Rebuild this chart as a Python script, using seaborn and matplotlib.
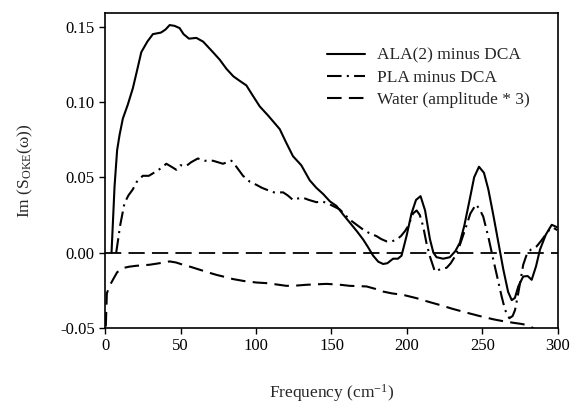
import matplotlib
matplotlib.use("Agg")
import matplotlib.pyplot as plt
import seaborn as sns
import pandas as pd

# frequency (cm-1) / Im(S_OKE) values
ala_freq = [4.3, 6.3, 8, 9.6, 11.8, 15, 18.4, 21, 24, 28, 31.7, 37, 40, 42.8, 46, 49.4,
            52, 55.6, 60.5, 65, 71.5, 76, 80.4, 85, 89.2, 93.6, 98, 102.5, 108, 115.7,
            120, 124.5, 130, 135.6, 140, 144.4, 149, 153.3, 158, 162.1, 167, 171, 174,
            177.6, 181, 184.2, 187, 190.8, 194, 196.4, 199.7, 203, 206, 209, 212, 215.2,
            217.5, 219.6, 224, 228.4, 232, 235, 238, 241.7, 244.5, 247.7, 251, 253.9, 257,
            259.4, 263.8, 267, 269.4, 271.5, 273.7, 277, 280, 282.6, 285.5, 288.1, 292,
            295.9, 299.2]
ala_val = [0.0, 0.044, 0.068, 0.078, 0.089, 0.098, 0.109, 0.120, 0.133, 0.140, 0.145,
           0.146, 0.148, 0.151, 0.1505, 0.149, 0.145, 0.142, 0.1425, 0.140, 0.133, 0.128,
           0.122, 0.117, 0.114, 0.111, 0.104, 0.097, 0.091, 0.082, 0.073, 0.064, 0.058,
           0.048, 0.043, 0.039, 0.034, 0.031, 0.025, 0.020, 0.014, 0.0087, 0.004, -0.002,
           -0.006, -0.0075, -0.007, -0.004, -0.004, -0.002, 0.011, 0.026, 0.035, 0.0375,
           0.028, 0.009, 0.0, -0.003, -0.004, -0.003, 0.001, 0.0065, 0.018, 0.036, 0.050,
           0.057, 0.053, 0.042, 0.026, 0.013, -0.011, -0.026, -0.0315, -0.030, -0.0225,
           -0.0158, -0.0155, -0.018, -0.009, 0.002, 0.012, 0.0185, 0.017]

pla_freq = [7.4, 10, 12.9, 15.5, 18.4, 21, 25, 29, 34, 37, 40.6, 44, 47.2, 50, 53.8, 57,
            61.5, 66, 71.5, 78.1, 83.7, 87, 91.4, 96, 100.3, 104, 109, 112, 118, 121,
            124.5, 128, 131, 135, 140, 144, 149, 155.5, 162, 166, 171, 175, 179.8, 183,
            186.5, 190, 193.1, 196, 198.6, 201, 204, 206.4, 208.5, 210.7, 213, 215.2,
            218.5, 222, 226.3, 229, 231.8, 235, 238.4, 242, 245.7, 248, 250.5, 254, 257.2,
            260, 262.7, 265, 267.8, 270, 271.6, 273.5, 275.3, 277, 279.3, 282, 285.9, 289,
            292.6, 295, 297, 299.5]
pla_val = [0.0, 0.018, 0.033, 0.038, 0.042, 0.047, 0.051, 0.051, 0.054, 0.056, 0.059,
           0.057, 0.055, 0.058, 0.0575, 0.060, 0.0625, 0.061, 0.061, 0.059, 0.061, 0.057,
           0.051, 0.047, 0.045, 0.043, 0.041, 0.040, 0.040, 0.038, 0.035, 0.036, 0.0365,
           0.035, 0.0335, 0.034, 0.032, 0.0287, 0.022, 0.019, 0.0153, 0.013, 0.011, 0.009,
           0.0075, 0.0075, 0.0087, 0.011, 0.0142, 0.018, 0.026, 0.028, 0.025, 0.0175,
           0.006, -0.0025, -0.0125, -0.011, -0.010, -0.007, -0.0025, 0.005, 0.015, 0.026,
           0.032, 0.029, 0.024, 0.010, -0.0047, -0.017, -0.029, -0.038, -0.0435, -0.042,
           -0.038, -0.028, -0.018, -0.008, -0.0013, 0.002, 0.0042, 0.008, 0.013, 0.016,
           0.0165, 0.015]

water_freq = [0.5, 1.2, 3, 5.2, 8, 11.8, 16, 20.7, 29.5, 36, 42.8, 47, 51.6, 57, 62.7,
              68, 73.7, 79, 84.7, 92, 100.3, 106.9, 113, 120.2, 127, 133.4, 140, 146.7,
              155, 162.1, 168, 173.2, 179, 184.2, 190, 197.5, 206.4, 214, 221.8, 230,
              239.5, 248, 257.2, 264, 270.4, 276, 279.3, 282, 284]
water_val = [-0.049, -0.027, -0.022, -0.018, -0.013, -0.0102, -0.0093, -0.0087, -0.008,
             -0.007, -0.0058, -0.0065, -0.008, -0.0095, -0.0113, -0.013, -0.0147, -0.016,
             -0.0175, -0.0188, -0.0198, -0.0202, -0.021, -0.022, -0.0218, -0.0213, -0.021,
             -0.0207, -0.0212, -0.022, -0.0222, -0.0224, -0.024, -0.0258, -0.027, -0.028,
             -0.0302, -0.0325, -0.0347, -0.0372, -0.0398, -0.042, -0.0442, -0.0455,
             -0.0465, -0.0473, -0.048, -0.049, -0.0505]

names = ["ALA(2) minus DCA", "PLA minus DCA", "Water (amplitude * 3)"]

df = pd.concat([
    pd.DataFrame({"freq": ala_freq, "val": ala_val, "series": names[0]}),
    pd.DataFrame({"freq": pla_freq, "val": pla_val, "series": names[1]}),
    pd.DataFrame({"freq": water_freq, "val": water_val, "series": names[2]}),
])

sns.set_style("ticks")
plt.rcParams["font.family"] = ["Liberation Serif", "DejaVu Serif"]
plt.rcParams["mathtext.fontset"] = "custom"
plt.rcParams["mathtext.rm"] = "Liberation Serif"
plt.rcParams["mathtext.it"] = "Liberation Serif:italic"

fig = plt.figure(figsize=(5.74, 4.07), dpi=100)
ax = fig.add_axes([0.183, 0.194, 0.789, 0.774])

ax.axhline(0, color="black", lw=1.3, ls=(0, (9, 4)), zorder=1)
sns.lineplot(data=df, x="freq", y="val", style="series", color="black", lw=1.5,
             dashes={names[0]: "", names[1]: (7, 2.5, 1, 2.5), names[2]: (7, 3.5)},
             ax=ax)

ax.set_xlim(0, 300)
ax.set_ylim(-0.05, 0.159)
ax.set_xticks(range(0, 301, 50))
ax.set_yticks([-0.05, 0, 0.05, 0.10, 0.15])
ax.set_yticklabels(["-0.05", "0.00", "0.05", "0.10", "0.15"])
ax.tick_params(direction="out", length=4, width=1, labelsize=12, colors="black")
for s in ax.spines.values():
    s.set_visible(True)
    s.set_linewidth(1.2)
    s.set_color("black")

ax.set_xlabel("Frequency (cm$^{-1}$)", fontsize=12.5, labelpad=20)
ax.set_ylabel("Im (S$_{\\rm OKE}$(ω))", fontsize=12.5, labelpad=18)

handles, labels = ax.get_legend_handles_labels()
ax.legend(handles, labels, loc="upper right", bbox_to_anchor=(0.972, 0.94), frameon=False,
          fontsize=12.5, handlelength=2.2, handletextpad=0.7, labelspacing=0.35)

fig.savefig("out.png", dpi=100)
